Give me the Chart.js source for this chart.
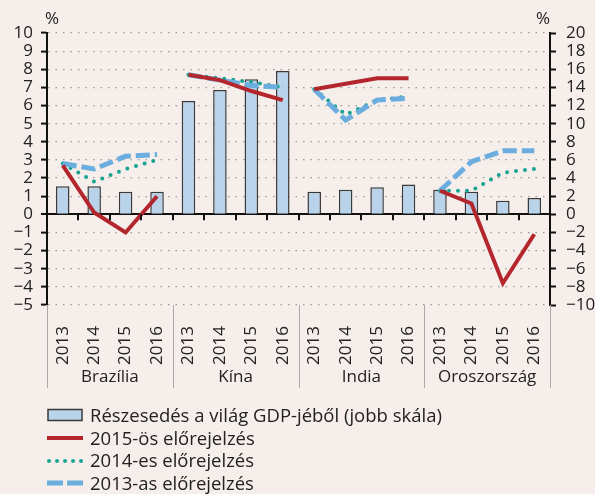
<!DOCTYPE html>
<html lang="hu">
<head>
<meta charset="utf-8">
<title>GDP-növekedési előrejelzések</title>
<script src="https://cdn.jsdelivr.net/npm/chart.js@4/dist/chart.umd.min.js"></script>
<style>
  html, body { margin: 0; padding: 0; background: #f5eeeb; }
  #wrap { position: relative; width: 595px; height: 494px; background: #f5eeeb; font-family: 'Open Sans', Lato, sans-serif; color: #222; }
  #chart { position: absolute; left: 0; top: 0; }
  #legend { position: absolute; left: 47px; top: 404px; font-size: 18.5px; line-height: 22.7px; }
  #legend div { display: flex; align-items: center; height: 22.7px; white-space: nowrap; }
  #legend svg { width: 36px; height: 14px; margin-right: 7px; flex: none; }
</style>
</head>
<body>
<div id="wrap">
  <canvas id="chart" width="595" height="494"></canvas>
  <div id="legend"></div>
</div>
<script>
// --- data ---
const countries = ['Brazília', 'Kína', 'India', 'Oroszország'];
const years = ['2013', '2014', '2015', '2016'];

// share of world GDP, right scale (%)
const gdpShare = [3.1, 3.1, 2.5, 2.5, 12.5, 13.7, 14.9, 15.8, 2.5, 2.7, 3.0, 3.3, 2.7, 2.5, 1.5, 1.8];
// growth forecasts, left scale (%)
const forecast2015 = [2.7, 0.1, -1.0, 1.0, 7.7, 7.4, 6.8, 6.3, 6.9, 7.2, 7.5, 7.5, 1.3, 0.6, -3.8, -1.1];
const forecast2014 = [2.8, 1.8, 2.5, 3.0, 7.7, 7.5, 7.3, 7.0, 6.9, 5.5, 6.3, 6.5, 1.3, 1.3, 2.3, 2.5];
const forecast2013 = [2.8, 2.5, 3.2, 3.3, 7.7, 7.4, 7.1, 7.0, 6.9, 5.2, 6.3, 6.4, 1.3, 2.9, 3.5, 3.5];

const leftTicks = { min: -5, max: 10, step: 1 };
const rightTicks = { min: -10, max: 20, step: 2 };

const labels = countries.flatMap(() => years);

const C = {
  bar: '#b8d3ea',
  barBorder: '#3a3a3a',
  red: '#b3262c',
  teal: '#17a391',
  blue: '#6badde',
  grid: '#9a9a9a',
  ink: '#222222',
  sep: '#a8a8a8',
};
const FONT = "'Open Sans', Lato, sans-serif";

const fmt = (v) => (v < 0 ? '\u2212' + Math.abs(v) : String(v));

// hide the segment that would join the last year of a country to the next one
const groupGap = (ctx) => (ctx.p0DataIndex % years.length === years.length - 1 ? 'rgba(0,0,0,0)' : undefined);

const extras = {
  id: 'extras',
  afterDraw(chart) {
    const { ctx, chartArea: a, scales: { x, y } } = chart;
    const n = years.length;
    const half = (x.getPixelForTick(1) - x.getPixelForTick(0)) / 2;
    const y0 = y.getPixelForValue(0);
    ctx.save();

    // small ticks on the zero line between categories
    ctx.strokeStyle = '#111';
    ctx.lineWidth = 2;
    ctx.beginPath();
    for (let i = 1; i < labels.length; i++) {
      const px = Math.round(x.getPixelForTick(i) - half);
      ctx.moveTo(px, y0);
      ctx.lineTo(px, y0 + 6);
    }
    ctx.stroke();

    // country separators and names under the year labels
    ctx.strokeStyle = C.sep;
    ctx.lineWidth = 1;
    ctx.beginPath();
    for (let g = 0; g <= countries.length; g++) {
      const px = g === 0 ? a.left : g === countries.length ? a.right : x.getPixelForTick(g * n) - half;
      ctx.moveTo(Math.round(px) + 0.5, a.bottom);
      ctx.lineTo(Math.round(px) + 0.5, a.bottom + 83);
    }
    ctx.stroke();

    ctx.fillStyle = C.ink;
    ctx.font = `17px ${FONT}`;
    ctx.textAlign = 'center';
    ctx.textBaseline = 'middle';
    countries.forEach((name, g) => {
      const cx = (x.getPixelForTick(g * n) + x.getPixelForTick(g * n + n - 1)) / 2;
      ctx.fillText(name, cx, a.bottom + 72);
    });

    // unit labels
    ctx.fillText('%', a.left + 5, a.top - 14);
    ctx.fillText('%', a.right - 7, a.top - 14);
    ctx.restore();
  },
};

new Chart(document.getElementById('chart'), {
  type: 'bar',
  data: {
    labels,
    datasets: [
      {
        type: 'line', label: '2015-ös előrejelzés', data: forecast2015, yAxisID: 'y', order: 1,
        borderColor: C.red, borderWidth: 4, pointRadius: 0, tension: 0,
        segment: { borderColor: groupGap },
      },
      {
        type: 'line', label: '2013-as előrejelzés', data: forecast2013, yAxisID: 'y', order: 2,
        borderColor: C.blue, borderWidth: 5, borderDash: [14, 5], pointRadius: 0, tension: 0,
        segment: { borderColor: groupGap },
      },
      {
        type: 'line', label: '2014-es előrejelzés', data: forecast2014, yAxisID: 'y', order: 3,
        borderColor: C.teal, borderWidth: 4, borderDash: [0, 9], borderCapStyle: 'round',
        pointRadius: 0, tension: 0,
        segment: { borderColor: groupGap },
      },
      {
        label: 'Részesedés a világ GDP-jéből (jobb skála)', data: gdpShare, yAxisID: 'y2', order: 10,
        backgroundColor: C.bar, borderColor: C.barBorder, borderWidth: 1.5,
        barPercentage: 0.43, categoryPercentage: 1,
      },
    ],
  },
  options: {
    responsive: false,
    animation: false,
    layout: { padding: { left: 0, right: 0, top: 33, bottom: 104 } },
    plugins: { legend: { display: false }, tooltip: { enabled: false } },
    scales: {
      x: {
        grid: { display: false },
        border: { display: false },
        afterFit: (s) => { s.height = 85; },
        ticks: {
          autoSkip: false, minRotation: 90, maxRotation: 90, padding: 13,
          color: C.ink, font: { family: FONT, size: 17 },
        },
      },
      y: {
        position: 'left',
        min: leftTicks.min, max: leftTicks.max,
        afterFit: (s) => { s.width = 47; },
        grid: {
          color: (c) => (c.tick && c.tick.value === 0 ? '#111' : C.grid),
          lineWidth: (c) => (c.tick && c.tick.value === 0 ? 2 : 1.2),
          tickLength: 6, tickColor: '#111', tickWidth: 2, tickBorderDash: [],
        },
        border: {
          display: true, color: '#111', width: 2,
          dash: (c) => (c.tick && c.tick.value === 0 ? [] : [1.5, 6]),
        },
        ticks: {
          stepSize: leftTicks.step, autoSkip: false, maxTicksLimit: 30, padding: 8,
          color: C.ink, font: { family: FONT, size: 17 }, callback: fmt,
        },
      },
      y2: {
        position: 'right',
        min: rightTicks.min, max: rightTicks.max,
        afterFit: (s) => { s.width = 45; },
        grid: { drawOnChartArea: false, tickLength: 6, tickColor: '#111', tickWidth: 2, tickBorderDash: [] },
        border: { display: true, color: '#111', width: 2 },
        ticks: {
          stepSize: rightTicks.step, autoSkip: false, maxTicksLimit: 30, padding: 10,
          color: C.ink, font: { family: FONT, size: 17 }, callback: fmt,
        },
      },
    },
  },
  plugins: [extras],
});

// legend, same order as the reference
const legendItems = [
  { text: 'Részesedés a világ GDP-jéből (jobb skála)', icon: `<rect x="1" y="1.5" width="34" height="11" fill="${C.bar}" stroke="${C.barBorder}" stroke-width="1.5"/>` },
  { text: '2015-ös előrejelzés', icon: `<line x1="0" y1="7" x2="36" y2="7" stroke="${C.red}" stroke-width="4"/>` },
  { text: '2014-es előrejelzés', icon: `<line x1="2" y1="7" x2="36" y2="7" stroke="${C.teal}" stroke-width="4" stroke-linecap="round" stroke-dasharray="0 8"/>` },
  { text: '2013-as előrejelzés', icon: `<line x1="0" y1="7" x2="36" y2="7" stroke="${C.blue}" stroke-width="5" stroke-dasharray="16 4"/>` },
];
document.getElementById('legend').innerHTML = legendItems
  .map((it) => `<div><svg viewBox="0 0 36 14">${it.icon}</svg><span>${it.text}</span></div>`)
  .join('');
</script>
</body>
</html>
